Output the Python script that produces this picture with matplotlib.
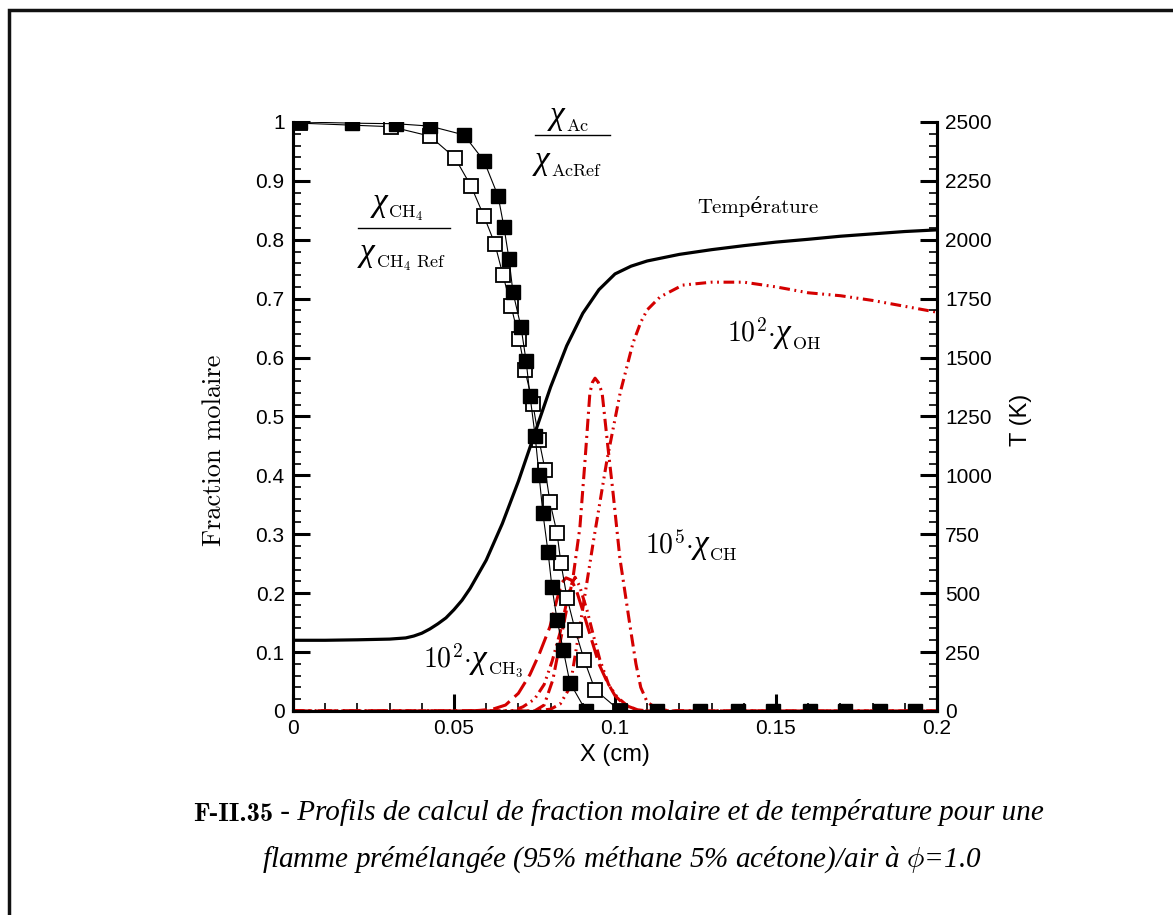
import numpy as np
import matplotlib.pyplot as plt
from matplotlib.patches import Rectangle
from matplotlib.lines import Line2D
from matplotlib.transforms import offset_copy

plt.rcParams['mathtext.fontset'] = 'cm'

# temperature profile (K), right axis
x_temp = [0.0, 0.01, 0.02, 0.03, 0.035, 0.0375, 0.04, 0.0425, 0.045, 0.0475, 0.05,
          0.0525, 0.055, 0.06, 0.065, 0.07, 0.075, 0.08, 0.085, 0.09, 0.095, 0.1,
          0.105, 0.11, 0.12, 0.13, 0.14, 0.15, 0.16, 0.17, 0.18, 0.19, 0.2]
temp = [300, 300, 302, 305, 310, 318, 330, 348, 370, 395, 430,
        470, 520, 640, 795, 975, 1175, 1375, 1550, 1688, 1788, 1855,
        1888, 1910, 1938, 1958, 1975, 1990, 2002, 2015, 2025, 2035, 2042]

# normalised CH4 (open squares)
x_ch4 = [0.0022, 0.0304, 0.0425, 0.0503, 0.0553, 0.0593, 0.0627, 0.0652, 0.0677,
         0.0702, 0.0720, 0.0745, 0.0764, 0.0783, 0.0798, 0.0820, 0.0832, 0.0851,
         0.0876, 0.0904, 0.0938, 0.1016]
ch4 = [0.998, 0.992, 0.976, 0.939, 0.891, 0.840, 0.793, 0.740, 0.688,
       0.632, 0.579, 0.521, 0.460, 0.409, 0.355, 0.302, 0.251, 0.192,
       0.138, 0.087, 0.036, 0.0]

# normalised acetone (filled squares)
x_ac = [0.0022, 0.0183, 0.0320, 0.0425, 0.0531, 0.0593, 0.0637, 0.0655, 0.0671,
        0.0683, 0.0708, 0.0724, 0.0736, 0.0752, 0.0764, 0.0776, 0.0792, 0.0804,
        0.0820, 0.0839, 0.0860, 0.0910, 0.1016, 0.113, 0.1264, 0.1382, 0.1491,
        0.1606, 0.1714, 0.1823, 0.1932]
ac = [1.0, 0.998, 0.997, 0.993, 0.978, 0.934, 0.874, 0.822, 0.767,
      0.711, 0.652, 0.594, 0.535, 0.467, 0.401, 0.336, 0.270, 0.211,
      0.155, 0.104, 0.048, 0.0, 0.0, 0.0, 0.0, 0.0, 0.0,
      0.0, 0.0, 0.0, 0.0]

# 1e2 * CH3
x_ch3 = [0.0, 0.055, 0.058, 0.062, 0.066, 0.07, 0.0736, 0.0765, 0.0798, 0.082, 0.0835,
         0.0848, 0.0865, 0.088, 0.09, 0.0925, 0.095, 0.0975, 0.1, 0.103, 0.107,
         0.11, 0.2]
ch3 = [0.0, 0.0, 0.001, 0.003, 0.01, 0.03, 0.062, 0.097, 0.143, 0.19, 0.218,
       0.226, 0.222, 0.205, 0.17, 0.125, 0.08, 0.05, 0.026, 0.01, 0.002,
       0.0, 0.0]

# second small peak
x_p2 = [0.0, 0.068, 0.0714, 0.075, 0.078, 0.0805, 0.0829, 0.085, 0.0865, 0.0876,
        0.089, 0.0913, 0.0933, 0.0953, 0.098, 0.1006, 0.104, 0.108, 0.2]
p2 = [0.0, 0.0, 0.007, 0.02, 0.045, 0.085, 0.132, 0.185, 0.215, 0.227,
      0.212, 0.171, 0.128, 0.087, 0.045, 0.024, 0.008, 0.0, 0.0]

# 1e5 * CH
x_ch = [0.0, 0.075, 0.078, 0.0807, 0.0839, 0.087, 0.0891, 0.0907, 0.0922, 0.093,
        0.0938, 0.0948, 0.096, 0.0978, 0.0994, 0.1015, 0.1047, 0.1065, 0.108,
        0.11, 0.113, 0.117, 0.2]
ch = [0.0, 0.0, 0.01, 0.053, 0.143, 0.228, 0.312, 0.426, 0.54, 0.558,
      0.565, 0.558, 0.54, 0.448, 0.37, 0.26, 0.143, 0.08, 0.04,
      0.015, 0.004, 0.0, 0.0]

# 1e2 * OH
x_oh = [0.0, 0.075, 0.08, 0.083, 0.086, 0.0875, 0.0891, 0.0932, 0.0975, 0.1016,
        0.1056, 0.108, 0.11, 0.114, 0.121, 0.13, 0.14, 0.15, 0.16,
        0.17, 0.18, 0.19, 0.2]
oh = [0.0, 0.0, 0.003, 0.012, 0.04, 0.09, 0.143, 0.285, 0.426, 0.54,
      0.625, 0.66, 0.681, 0.703, 0.723, 0.728, 0.728, 0.72, 0.71,
      0.705, 0.697, 0.687, 0.677]

red = '#d40000'

fig = plt.figure(figsize=(11.73, 9.15), dpi=100)
ax = fig.add_axes([0.2498, 0.2230, 0.5490, 0.6437])
ax2 = ax.twinx()

# red species
ax.plot(x_ch3, ch3, color=red, lw=2.2, dashes=(6, 2.2))
ax.plot(x_p2, p2, color=red, lw=2.2, dashes=(3.5, 1.5, 0.6, 1.5, 0.6, 1.5))
ax.plot(x_ch, ch, color=red, lw=2.2, dashes=(4, 1.6, 0.7, 1.6))
ax.plot(x_oh, oh, color=red, lw=2.2, dashes=(3.5, 1.5, 0.6, 1.5, 0.6, 1.5))

# normalised fuels
ax.plot(x_ch4, ch4, color='black', lw=0.8, marker='s', ms=10, mfc='white',
        mec='black', mew=1.3, zorder=4)
ax.plot(x_ac, ac, color='black', lw=0.8, marker='s', ms=10, mfc='black',
        mec='black', zorder=5)

# temperature
ax2.plot(x_temp, temp, color='black', lw=2.3)

ax.set_xlim(0, 0.2)
ax.set_ylim(0, 1)
ax2.set_ylim(0, 2500)

ax.set_xticks([0, 0.05, 0.1, 0.15, 0.2])
ax.set_xticklabels(['0', '0.05', '0.1', '0.15', '0.2'])
ax.set_xticks(np.arange(0, 0.2001, 0.01), minor=True)
ax.set_yticks(np.arange(0, 1.001, 0.1))
ax.set_yticklabels(['0'] + ['%.1f' % v for v in np.arange(0.1, 0.95, 0.1)] + ['1'])
ax.set_yticks(np.arange(0, 1.001, 0.02), minor=True)
ax2.set_yticks(np.arange(0, 2501, 250))
ax2.set_yticks(np.arange(0, 2501, 50), minor=True)

for a in (ax, ax2):
    a.tick_params(which='major', direction='in', length=12, width=2.2,
                  labelsize=15, pad=6)
    a.tick_params(which='minor', direction='in', length=6, width=1.2)
    for lab in a.get_xticklabels() + a.get_yticklabels():
        lab.set_family('Liberation Sans')
    a.spines['top'].set_visible(False)
    for s in ('left', 'right', 'bottom'):
        a.spines[s].set_linewidth(2.2)

ax.set_xlabel('X (cm)', fontsize=17, family='Liberation Sans', labelpad=4)
ax.set_ylabel('Fraction molaire', fontsize=19, family='cmr10')
ax.yaxis.set_label_coords(-0.104, 0.443)
ax2.set_ylabel('T (K)', fontsize=17, family='Liberation Sans')
ax2.yaxis.set_label_coords(1.113, 0.494)

renderer = fig.canvas.get_renderer()


# species labels: prefix (cm math), chi (Times-like italic), lowered subscript
def species_label(x, y, prefix, sub, fs=20, fs_chi=24, fs_sub=13, drop=7):
    pieces = []
    if prefix:
        pieces.append((prefix, dict(fontsize=fs), 0))
    pieces.append(('χ', dict(fontsize=fs_chi, family='Liberation Serif',
                             style='italic'), 0))
    pieces.append((sub, dict(fontsize=fs_sub), -drop))
    dx = 0
    for s, kw, dy in pieces:
        tr = offset_copy(ax.transData, fig=fig, x=dx, y=dy, units='dots')
        t = ax.text(x, y, s, transform=tr, ha='left', va='baseline', **kw)
        dx += t.get_window_extent(renderer).width + 1


species_label(0.0248, 0.849, None, r'$\mathrm{CH_4}$')
ax.add_line(Line2D([0.0202, 0.0488], [0.820, 0.820], color='black', lw=1))
species_label(0.0208, 0.764, None, r'$\mathrm{CH_4\ Ref}$')

species_label(0.0798, 0.997, None, r'$\mathrm{Ac}$')
ax.add_line(Line2D([0.0752, 0.0984], [0.978, 0.978], color='black', lw=1))
species_label(0.0752, 0.920, None, r'$\mathrm{AcRef}$')

ax.text(0.1444, 0.856, 'Température', fontsize=15, family=['cmr10', 'DejaVu Serif'],
        ha='center', va='center')
species_label(0.1348, 0.6265, r'$10^2{\cdot}$', r'$\mathrm{OH}$')
species_label(0.1093, 0.268, r'$10^5{\cdot}$', r'$\mathrm{CH}$')
species_label(0.0404, 0.073, r'$10^2{\cdot}$', r'$\mathrm{CH_3}$')

# caption
t1 = fig.text(193 / 1173, 1 - 821 / 915, 'F-II.35', family='cmb10', fontsize=19,
              ha='left', va='baseline')
plt.annotate(' - Profils de calcul de fraction molaire et de température pour une',
             xy=(1, 0), xycoords=t1, va='bottom', ha='left',
             family='Liberation Serif', style='italic', fontsize=21)
fig.text(622 / 1173, 1 - 867 / 915,
         r'flamme prémélangée (95% méthane 5% acétone)/air à $\phi$=1.0',
         family='Liberation Serif', style='italic', fontsize=21,
         ha='center', va='baseline')

# page frame
fig.patches.append(Rectangle((9 / 1173, -0.05), 1.1, 1 - 10 / 915 + 0.05,
                             transform=fig.transFigure, fill=False,
                             edgecolor='#111111', lw=2.5))

plt.savefig('out.png', dpi=100)
